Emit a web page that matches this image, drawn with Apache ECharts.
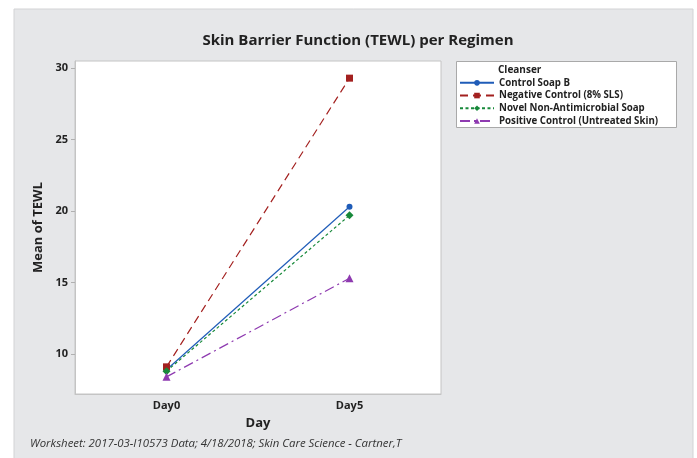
<!DOCTYPE html>
<html>
<head>
<meta charset="utf-8">
<script src="https://cdn.jsdelivr.net/npm/echarts@6/dist/echarts.min.js"></script>
<style>
  html, body { margin: 0; padding: 0; background: #fff; }
  #chart { width: 697px; height: 458px; }
</style>
</head>
<body>
<div id="chart"></div>
<script>
// data
var days = ['Day0', 'Day5'];
var yTicks = [10, 15, 20, 25, 30];
var controlSoapB = [8.9, 20.3];
var negativeControl = [9.1, 29.3];
var novelSoap = [8.8, 19.7];
var positiveControl = [8.4, 15.3];

var font = '"Open Sans", "Noto Sans", sans-serif';
var chart = echarts.init(document.getElementById('chart'));

function makeSeries(name, data, color, symbol, size, dash) {
  return {
    name: name,
    type: 'line',
    data: data,
    symbol: symbol,
    symbolSize: size,
    itemStyle: { color: color },
    lineStyle: { color: color, width: 1.2, type: dash },
    emphasis: { disabled: true },
    animation: false
  };
}

var option = {
  backgroundColor: '#fff',
  textStyle: { fontFamily: font },
  title: {
    text: 'Skin Barrier Function (TEWL) per Regimen',
    left: 353, top: 28, textAlign: 'center',
    textStyle: { fontSize: 15, fontWeight: 'bold', color: '#222', fontFamily: font }
  },
  graphic: [
    { type: 'rect', z: -10, shape: { x: 14, y: 9, width: 679, height: 460 },
      style: { fill: '#e6e7e9', stroke: '#d2d3d5', lineWidth: 1 } },
    { type: 'rect', z: 1, shape: { x: 456.5, y: 61.5, width: 220, height: 66 },
      style: { fill: '#fff', stroke: '#a9a9a9', lineWidth: 1 } },
    { type: 'text', z: 2, left: 498, top: 65,
      style: { text: 'Cleanser', font: 'bold 10px ' + font, fill: '#222' } },
    { type: 'text', z: 2, left: 30, top: 438,
      style: { text: 'Worksheet: 2017-03-I10573 Data; 4/18/2018; Skin Care Science - Cartner,T',
               font: 'italic 11.4px ' + font, fill: '#333' } }
  ],
  legend: {
    orient: 'vertical',
    left: 459, top: 77,
    itemWidth: 34, itemHeight: 7, itemGap: 1,
    padding: 0,
    z: 3,
    textStyle: { fontSize: 9.7, lineHeight: 11.7, fontWeight: 'bold', color: '#222', fontFamily: font, padding: [0, 0, 0, 0] },
    data: ['Control Soap B', 'Negative Control (8% SLS)', 'Novel Non-Antimicrobial Soap', 'Positive Control (Untreated Skin)']
  },
  grid: {
    left: 75, top: 61, right: 256, bottom: 64,
    show: true, backgroundColor: '#fff', borderColor: '#c4c4c4', borderWidth: 1
  },
  xAxis: {
    type: 'category',
    data: days,
    boundaryGap: true,
    name: 'Day',
    nameLocation: 'middle',
    nameGap: 23,
    nameTextStyle: { fontSize: 13, fontWeight: 'bold', color: '#222' },
    axisLine: { lineStyle: { color: '#c4c4c4' } },
    axisTick: { alignWithLabel: true, length: 4, lineStyle: { color: '#b0b0b0' } },
    axisLabel: { fontSize: 11, fontWeight: 'bold', color: '#222', margin: 6 },
    splitLine: { show: false }
  },
  yAxis: {
    type: 'value',
    min: 7.2, max: 30.5,
    name: 'Mean of TEWL',
    nameLocation: 'middle',
    nameGap: 28,
    nameTextStyle: { fontSize: 13, fontWeight: 'bold', color: '#222' },
    axisLine: { show: true, lineStyle: { color: '#c4c4c4' } },
    axisTick: { show: true, length: 4, customValues: yTicks, lineStyle: { color: '#b0b0b0' } },
    axisLabel: { fontSize: 11, fontWeight: 'bold', color: '#222', margin: 7, customValues: yTicks },
    splitLine: { show: false }
  },
  series: [
    makeSeries('Control Soap B', controlSoapB, '#1f5cb8', 'circle', 6, 'solid'),
    makeSeries('Negative Control (8% SLS)', negativeControl, '#a3201f', 'rect', 7, [8, 5]),
    makeSeries('Novel Non-Antimicrobial Soap', novelSoap, '#17893a', 'diamond', 8, [3, 2.5]),
    makeSeries('Positive Control (Untreated Skin)', positiveControl, '#8e3ab0', 'triangle', 8, [10, 4, 2, 4])
  ]
};
chart.setOption(option);
</script>
</body>
</html>
